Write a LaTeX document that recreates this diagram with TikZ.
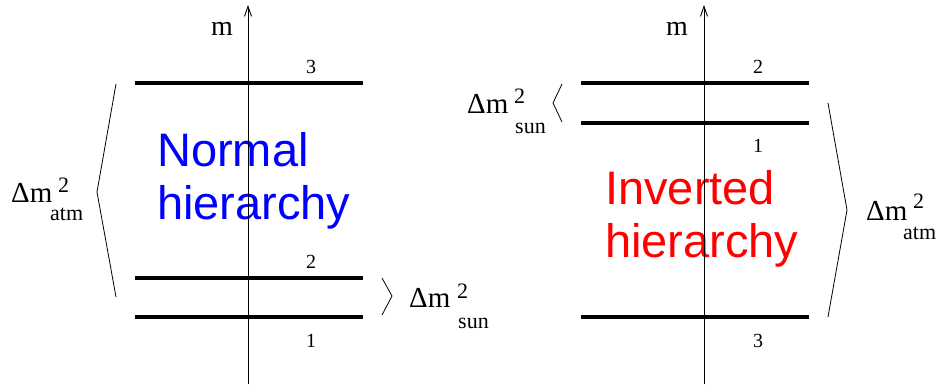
\documentclass[tikz,border=0pt]{standalone}
\usepackage{fontspec}
\setmainfont{Liberation Serif}
\newfontfamily\hsans{Liberation Sans}
\usetikzlibrary{arrows.meta}
\begin{document}
\begin{tikzpicture}[x=1pt,y=-1pt,
  level/.style={line width=3.4pt},
  axisline/.style={line width=0.9pt,-{Straight Barb[length=10pt,width=7pt]}},
  brack/.style={line width=0.8pt,line join=miter},
  lbl/.style={inner sep=0pt,anchor=base,font=\fontsize{20}{20}\selectfont},
  dm/.style={inner sep=0pt,anchor=base west,font=\fontsize{29}{29}\selectfont},
  sm/.style={inner sep=0pt,anchor=base west,font=\fontsize{22}{22}\selectfont},
  big/.style={inner sep=0pt,anchor=base west,font=\hsans\fontsize{47}{47}\selectfont}]
\useasboundingbox (0,0) rectangle (940,384);
% ---------- left: normal hierarchy ----------
\coordinate (lb) at (248,384);
\coordinate (lt) at (248,5);
\draw[level] (135,83) coordinate (l3a) -- (363,83) coordinate (l3b);
\draw[level] (135,278) coordinate (l2a) -- (363,278) coordinate (l2b);
\draw[level] (135,317) coordinate (l1a) -- (363,317) coordinate (l1b);
\node[big,text=blue] (nh1) at (157,166) {Normal};
\node[big,text=blue] (nh2) at (157,219) {hierarchy};
\draw[axisline] (lb) -- (lt);
\node[inner sep=0pt,anchor=base west,font=\fontsize{28}{28}\selectfont] (lm) at (211,35) {m};
\node[lbl] (ln3) at (311,73) {3};
\node[lbl] (ln2) at (311,268) {2};
\node[lbl] (ln1) at (311,347) {1};
\coordinate (lba) at (116,84);
\coordinate (lbm) at (97,192);
\coordinate (lbb) at (116,297);
\draw[brack] (lba) -- (lbm) -- (lbb);
\node[dm] (latm) at (11,202) {Δm};
\node[sm] (latm2) at (58,192) {2};
\node[sm] (latms) at (50,220) {atm};
\coordinate (lsa) at (382,278);
\coordinate (lsm) at (392,296);
\coordinate (lsb) at (382,315);
\draw[brack] (lsa) -- (lsm) -- (lsb);
\node[dm] (lsun) at (409,307) {Δm};
\node[sm] (lsun2) at (457,298) {2};
\node[sm] (lsuns) at (458,328) {sun};
% ---------- right: inverted hierarchy ----------
\coordinate (rb) at (704,384);
\coordinate (rt) at (704,5);
\draw[level] (581,83) coordinate (r2a) -- (809,83) coordinate (r2b);
\draw[level] (581,123) coordinate (r1a) -- (809,123) coordinate (r1b);
\draw[level] (581,317) coordinate (r3a) -- (809,317) coordinate (r3b);
\node[big,text=red] (ih1) at (605,204) {Inverted};
\node[big,text=red] (ih2) at (605,257) {hierarchy};
\draw[axisline] (rb) -- (rt);
\node[inner sep=0pt,anchor=base west,font=\fontsize{28}{28}\selectfont] (rm) at (666,35) {m};
\node[lbl] (rn2) at (758,73) {2};
\node[lbl] (rn1) at (758,152) {1};
\node[lbl] (rn3) at (758,347) {3};
\coordinate (rsa) at (562,84);
\coordinate (rsm) at (553,103);
\coordinate (rsb) at (562,122);
\draw[brack] (rsa) -- (rsm) -- (rsb);
\node[dm] (rsun) at (467,113) {Δm};
\node[sm] (rsun2) at (514,103) {2};
\node[sm] (rsuns) at (515,133) {sun};
\coordinate (rba) at (828,103);
\coordinate (rbm) at (847,210);
\coordinate (rbb) at (828,317);
\draw[brack] (rba) -- (rbm) -- (rbb);
\node[dm] (ratm) at (866,220) {Δm};
\node[sm] (ratm2) at (913,208) {2};
\node[sm] (ratms) at (903,239) {atm};
\end{tikzpicture}
\end{document}
